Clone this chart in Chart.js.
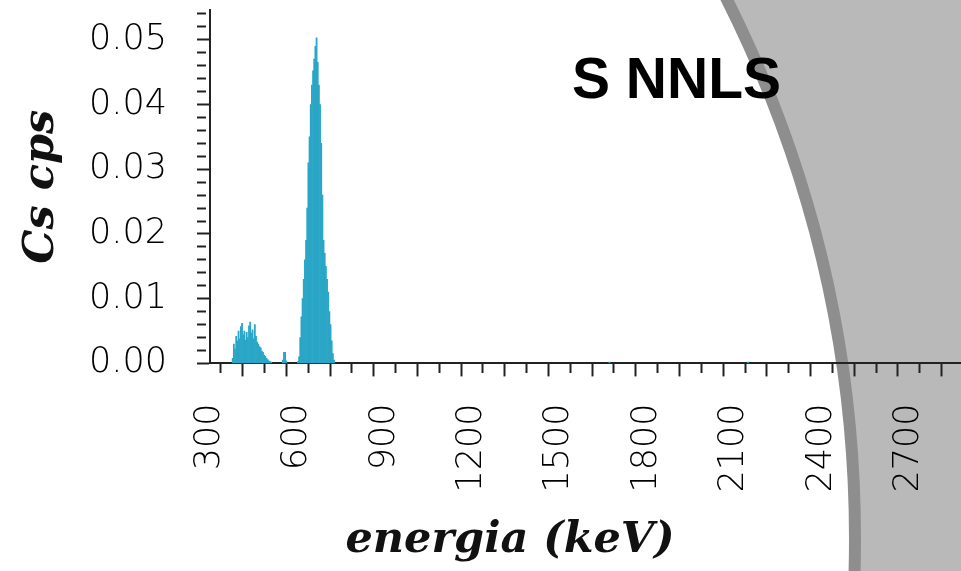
<!DOCTYPE html>
<html>
<head>
<meta charset="utf-8">
<script src="https://cdn.jsdelivr.net/npm/chart.js@4/dist/chart.umd.min.js"></script>
<style>
  html, body { margin: 0; padding: 0; background: #fff; overflow: hidden; width: 961px; height: 571px; }
  #wrap { position: relative; width: 961px; height: 571px; overflow: hidden; }
  #wrap canvas { position: absolute; left: 0; top: 0; }
  #tag { position: absolute; left: 572px; top: 50px; font: bold 57px/57px "Liberation Sans", Arial, sans-serif; color: #000; white-space: nowrap; }
</style>
</head>
<body>
<div id="wrap">
  <canvas id="spectrum" width="1020" height="571"></canvas>
  <div id="tag">S NNLS</div>
</div>
<script>
// Unfolded Cs spectrum (cps per 4 keV bin)

// Compton region
const lowEnergy = [378, 382, 386, 390, 394, 398, 402, 406, 410, 414, 418, 422, 426, 430, 434, 438, 442,
                   446, 450, 454, 458, 462, 466, 470, 474, 478, 482, 486, 490, 494, 498, 502, 506, 510];
const lowCps = [0.0008, 0.0030, 0.0022, 0.0042, 0.0035, 0.0050, 0.0038, 0.0057, 0.0062, 0.0044, 0.0050,
                0.0036, 0.0048, 0.0040, 0.0058, 0.0064, 0.0047, 0.0052, 0.0038, 0.0060, 0.0042, 0.0033,
                0.0030, 0.0026, 0.0024, 0.0019, 0.0017, 0.0013, 0.0011, 0.0008, 0.0006, 0.0004, 0.0003, 0.0002];

// small structure below the photopeak
const bumpEnergy = [550, 554, 558, 562, 602];
const bumpCps = [0.0005, 0.0017, 0.0017, 0.0004, 0.0003];

// 662 keV photopeak
const peakEnergy = [606, 610, 614, 618, 622, 626, 630, 634, 638, 642, 646, 650, 654, 658, 662, 666,
                    670, 674, 678, 682, 686, 690, 694, 698, 702, 706, 710, 714, 718, 722, 726];
const peakCps = [0.0010, 0.0040, 0.0072, 0.0100, 0.0130, 0.0160, 0.0190, 0.0240, 0.0310, 0.0350, 0.0400,
                 0.0430, 0.0452, 0.0470, 0.0490, 0.0503, 0.0465, 0.0430, 0.0400, 0.0340, 0.0260, 0.0190,
                 0.0170, 0.0150, 0.0130, 0.0110, 0.0080, 0.0060, 0.0035, 0.0015, 0.0005];

// residual counts at high energy
const traceEnergy = [1672, 2148];
const traceCps = [0.0002, 0.0002];

// axis labels
const xLabelValues = [300, 600, 900, 1200, 1500, 1800, 2100, 2400, 2700, 3000];
const yLabelValues = [0.00, 0.01, 0.02, 0.03, 0.04, 0.05];
const xMinorStep = 75, xMajorStep = 150;
const yMinorStep = 0.002, yMajorStep = 0.01;

const toPoints = (xs, ys) => xs.map((x, i) => ({ x: x, y: ys[i] }));
const spectrum = [].concat(
  toPoints(lowEnergy, lowCps),
  toPoints(bumpEnergy, bumpCps),
  toPoints(peakEnergy, peakCps),
  toPoints(traceEnergy, traceCps)
);

const near = (a, b) => Math.abs(a - b) < 1e-9;
const isMultiple = (v, step) => near(Math.round(v / step) * step, v);

// slide backdrop: white disc with a grey rim on grey
const slideBackdrop = {
  id: 'slideBackdrop',
  beforeDraw(chart) {
    const ctx = chart.ctx;
    ctx.save();
    ctx.fillStyle = '#b9b9b9';
    ctx.fillRect(0, 0, chart.width, chart.height);
    ctx.beginPath();
    ctx.arc(-345, 539, 1200, 0, Math.PI * 2);
    ctx.fillStyle = '#ffffff';
    ctx.fill();
    ctx.lineWidth = 12;
    ctx.strokeStyle = '#8e8e8e';
    ctx.stroke();
    ctx.restore();
  }
};

const tickFont = { family: '"DejaVu Sans", sans-serif', size: 35, weight: 300 };
const titleFont = { family: '"DejaVu Serif", serif', size: 43, weight: 'bold', style: 'italic', lineHeight: 1.2 };

new Chart(document.getElementById('spectrum'), {
  type: 'bar',
  data: {
    datasets: [{
      data: spectrum,
      backgroundColor: '#2aa6c6',
      borderWidth: 0,
      barPercentage: 1.0,
      categoryPercentage: 1.0
    }]
  },
  options: {
    responsive: false,
    animation: false,
    layout: { padding: { top: 10, right: 0, bottom: 0, left: 0 } },
    plugins: {
      legend: { display: false },
      tooltip: { enabled: false },
      title: {
        display: true,
        position: 'bottom',
        text: 'energia (keV)',
        color: '#111',
        font: titleFont,
        padding: { top: 2, bottom: 4 }
      }
    },
    scales: {
      x: {
        type: 'linear',
        min: 300,
        max: 3082,
        offset: false,
        border: { display: true, color: '#222', width: 2 },
        grid: {
          drawOnChartArea: false,
          drawTicks: true,
          tickLength: 13,
          tickWidth: 2,
          tickColor: '#222',
          tickBorderDash: (c) => (c.tick && !isMultiple(c.tick.value, xMajorStep)) ? [9, 40] : []
        },
        ticks: {
          autoSkip: false,
          minRotation: 90,
          maxRotation: 90,
          padding: 27,
          color: '#000',
          font: tickFont,
          callback: (v) => xLabelValues.some(l => near(l, v)) ? String(v) : ''
        },
        afterBuildTicks: (s) => {
          const t = [];
          for (let v = 300; v <= 3082; v += xMinorStep) t.push({ value: v });
          s.ticks = t;
        },
        afterFit: (s) => { s.height = 150; s.paddingLeft = 0; s.paddingRight = 0; }
      },
      y: {
        type: 'linear',
        min: 0,
        max: 0.0546,
        border: { display: true, color: '#222', width: 2 },
        grid: {
          drawOnChartArea: false,
          drawTicks: true,
          tickLength: 13,
          tickWidth: 2,
          tickColor: '#222',
          tickBorderDash: (c) => (c.tick && !isMultiple(c.tick.value, yMajorStep)) ? [9, 40] : []
        },
        ticks: {
          autoSkip: false,
          padding: 30,
          color: '#000',
          font: tickFont,
          callback: (v) => {
            const hit = yLabelValues.find(l => near(l, v));
            return hit !== undefined ? hit.toFixed(2) : '';
          }
        },
        title: {
          display: true,
          text: 'Cs cps',
          color: '#111',
          font: titleFont,
          padding: { top: 16, bottom: 0 }
        },
        afterBuildTicks: (s) => {
          const t = [];
          for (let i = 0; i <= 27; i++) t.push({ value: Math.round(i * yMinorStep * 1e6) / 1e6 });
          s.ticks = t;
        },
        afterFit: (s) => { s.width = 210; s.paddingTop = 0; s.paddingBottom = 0; }
      }
    }
  },
  plugins: [slideBackdrop]
});
</script>
</body>
</html>
